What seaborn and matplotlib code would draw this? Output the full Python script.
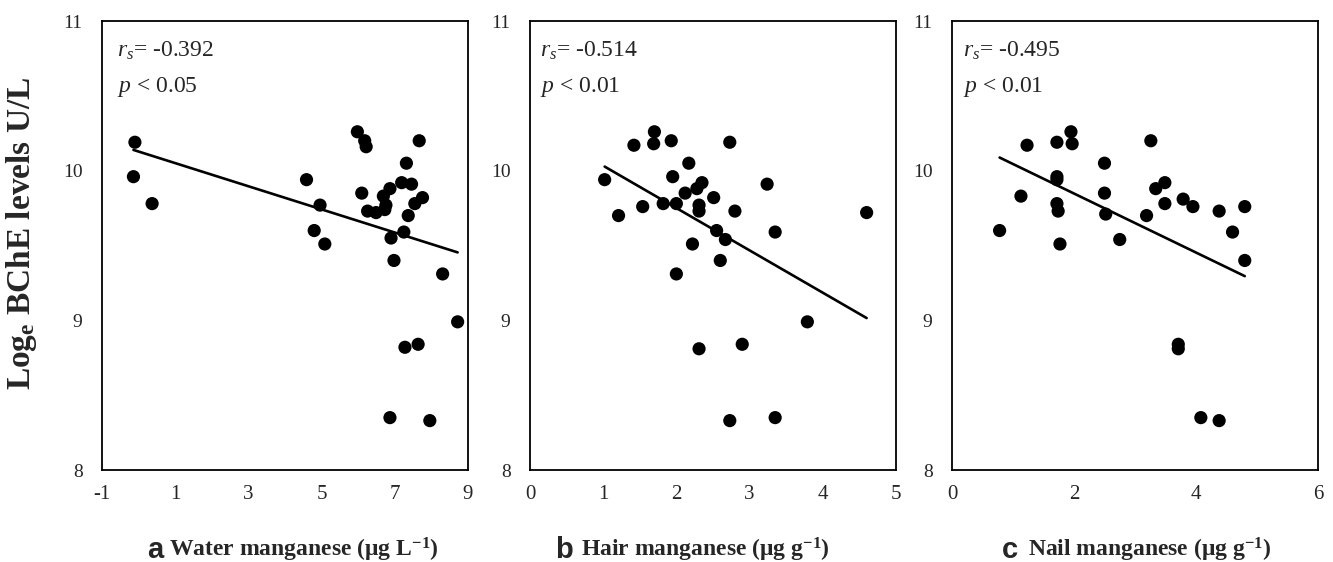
import numpy as np
import pandas as pd
import matplotlib
matplotlib.use("Agg")
import matplotlib.pyplot as plt
import seaborn as sn

# values
water_x = [-0.10, -0.14, 0.37, 4.59, 4.96, 4.80, 5.09, 5.98, 6.18, 6.22, 6.10, 6.26, 6.49,
           6.69, 6.76, 6.73, 6.87, 6.90, 6.98, 7.32, 7.19, 7.46, 7.55, 7.76, 7.37, 7.25,
           7.67, 8.31, 8.72, 7.28, 7.64, 6.87, 7.96]
water_y = [10.19, 9.96, 9.78, 9.94, 9.77, 9.60, 9.51, 10.26, 10.20, 10.16, 9.85, 9.73, 9.72,
           9.83, 9.77, 9.74, 9.88, 9.55, 9.40, 10.05, 9.92, 9.91, 9.78, 9.82, 9.70, 9.59,
           10.20, 9.31, 8.99, 8.82, 8.84, 8.35, 8.33]

hair_x = [1.02, 1.21, 1.42, 1.54, 1.70, 1.69, 1.93, 1.82, 1.95, 2.00, 2.00, 2.17, 2.12, 2.28,
          2.35, 2.31, 2.31, 2.51, 2.22, 2.55, 2.67, 2.60, 2.73, 2.80, 3.24, 3.35, 4.60, 3.79,
          2.31, 2.90, 2.73, 3.35]
hair_y = [9.94, 9.70, 10.17, 9.76, 10.26, 10.18, 10.20, 9.78, 9.96, 9.78, 9.31, 10.05, 9.85,
          9.88, 9.92, 9.77, 9.73, 9.82, 9.51, 9.60, 9.54, 9.40, 10.19, 9.73, 9.91, 9.59, 9.72,
          8.99, 8.81, 8.84, 8.33, 8.35]

nail_x = [0.78, 1.13, 1.23, 1.72, 1.72, 1.72, 1.72, 1.74, 1.77, 1.95, 1.97, 2.50, 2.50, 2.52,
          2.75, 3.19, 3.26, 3.34, 3.49, 3.49, 3.79, 3.95, 4.38, 4.80, 4.60, 4.80, 3.71, 3.71,
          4.08, 4.38]
nail_y = [9.60, 9.83, 10.17, 10.19, 9.96, 9.94, 9.78, 9.73, 9.51, 10.26, 10.18, 10.05, 9.85,
          9.71, 9.54, 9.70, 10.20, 9.88, 9.92, 9.78, 9.81, 9.76, 9.73, 9.76, 9.59, 9.40, 8.84,
          8.81, 8.35, 8.33]

letters = ["a", "b", "c"]
xlabels = [r"Water manganese (μg L$^{\mathbf{-1}}$)",
           r"Hair manganese (μg g$^{\mathbf{-1}}$)",
           r"Nail manganese (μg g$^{\mathbf{-1}}$)"]
r_values = ["-0.392", "-0.514", "-0.495"]
p_values = ["0.05", "0.01", "0.01"]
xlims = [(-1, 9), (0, 5), (0, 6)]
xticks = [[-1, 1, 3, 5, 7, 9], [0, 1, 2, 3, 4, 5], [0, 2, 4, 6]]
yticks = [8, 9, 10, 11]

sn.set_style("white")
plt.rcParams["font.family"] = ["Liberation Serif", "DejaVu Serif"]
plt.rcParams["mathtext.fontset"] = "custom"
plt.rcParams["mathtext.rm"] = "Liberation Serif"
plt.rcParams["mathtext.it"] = "Liberation Serif:italic"
plt.rcParams["mathtext.bf"] = "Liberation Serif:bold"
plt.rcParams["axes.unicode_minus"] = False

fig = plt.figure(figsize=(13.33, 5.62), dpi=100)
lefts = [0.0765, 0.3976, 0.7142]
width = 0.2745
bottom, top = 0.1637, 0.9626
panels = [(water_x, water_y), (hair_x, hair_y), (nail_x, nail_y)]
# letter right edge and text left edge (figure fraction)
letter_x = [0.1225, 0.4295, 0.7640]
text_x = [0.1265, 0.4360, 0.7715]
ann_x = [0.04, 0.028, 0.03]

for i, (xs, ys) in enumerate(panels):
    ax = fig.add_axes([lefts[i], bottom, width, top - bottom])
    df = pd.DataFrame({"x": xs, "y": ys})
    sn.scatterplot(data=df, x="x", y="y", ax=ax, color="black", s=90,
                   edgecolor="none", zorder=3)
    sn.regplot(data=df, x="x", y="y", ax=ax, scatter=False, ci=None, truncate=True,
               line_kws={"color": "black", "lw": 1.9})
    ax.set_xlim(*xlims[i])
    ax.set_ylim(8, 11)
    ax.set_xticks(xticks[i])
    ax.set_yticks(yticks)
    ax.tick_params(axis="x", length=0, labelsize=15, pad=11)
    ax.tick_params(axis="y", length=0, labelsize=14, pad=14)
    ax.set_xlabel("")
    ax.set_ylabel("")
    for sp in ax.spines.values():
        sp.set_visible(True)
        sp.set_color("black")
        sp.set_linewidth(1.3)
    ax.text(ann_x[i], 0.920, r"$r_s$= " + r_values[i], transform=ax.transAxes,
            fontsize=17, va="baseline", ha="left")
    ax.text(ann_x[i], 0.843, r"$p$ < " + p_values[i], transform=ax.transAxes,
            fontsize=17, va="baseline", ha="left")
    fig.text(letter_x[i], 0.021, letters[i], fontsize=21, fontweight="bold",
             family="Liberation Sans", ha="right", va="center")
    fig.text(text_x[i], 0.021, xlabels[i], fontsize=17, fontweight="bold",
             ha="left", va="center")

fig.text(0.0165, 0.584, r"Log$_{\mathbf{e}}$ BChE levels U/L", rotation=90,
         fontsize=24, fontweight="bold", ha="center", va="center")

fig.savefig("out.png", dpi=100)
